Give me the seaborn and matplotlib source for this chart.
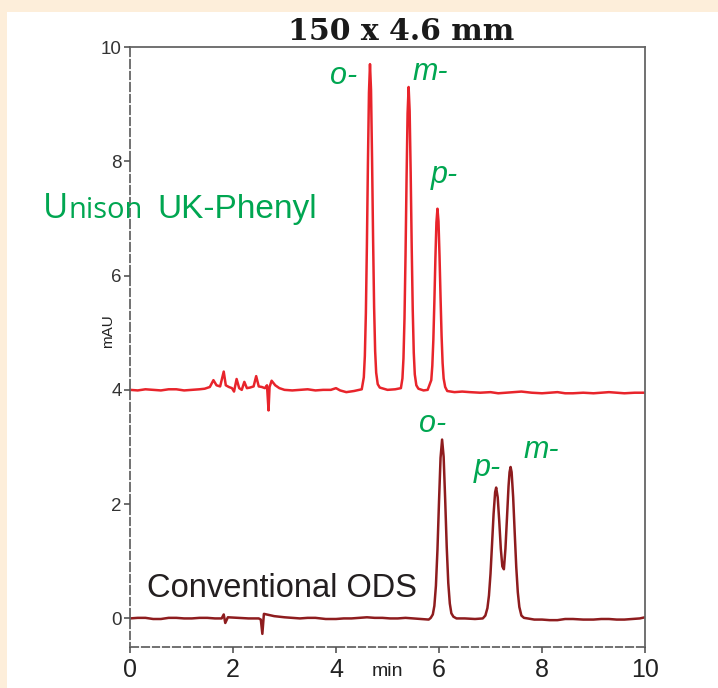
import numpy as np
import pandas as pd
import matplotlib
matplotlib.use("Agg")
import matplotlib.pyplot as plt
from matplotlib.patches import Rectangle
from matplotlib.ticker import MultipleLocator
import seaborn as sns

# --- data (time [min], absorbance [mAU]) ---
# Unison UK-Phenyl (upper trace, offset at 4 mAU)
phenyl_t = [0.0, 0.15, 0.3, 0.45, 0.6, 0.75, 0.9, 1.05, 1.2, 1.35, 1.45, 1.55, 1.62, 1.68,
            1.75, 1.82, 1.86, 1.92, 1.98, 2.02, 2.07, 2.12, 2.17, 2.22, 2.27, 2.33, 2.40,
            2.45, 2.50, 2.56, 2.62, 2.66, 2.69, 2.71, 2.75, 2.82, 2.90, 3.0, 3.15, 3.3,
            3.45, 3.6, 3.75, 3.9, 4.0, 4.08, 4.2, 4.35, 4.5, 4.54, 4.56, 4.58, 4.60, 4.62,
            4.64, 4.66, 4.68, 4.70, 4.72, 4.74, 4.76, 4.78, 4.81, 4.85, 5.0, 5.15, 5.26,
            5.29, 5.31, 5.33, 5.35, 5.37, 5.39, 5.41, 5.43, 5.45, 5.47, 5.49, 5.51, 5.53,
            5.56, 5.60, 5.70, 5.78, 5.85, 5.87, 5.89, 5.91, 5.93, 5.95, 5.97, 5.99, 6.01,
            6.03, 6.05, 6.07, 6.09, 6.12, 6.16, 6.3, 6.45, 6.6, 6.8, 7.0, 7.15, 7.3, 7.45,
            7.6, 7.8, 8.0, 8.15, 8.3, 8.45, 8.6, 8.8, 9.0, 9.15, 9.3, 9.45, 9.6, 9.8, 10.0]
phenyl_mau = [4.00, 3.99, 4.01, 4.00, 3.99, 4.01, 4.01, 3.99, 4.00, 4.01, 4.02, 4.05, 4.17, 4.08,
              4.06, 4.32, 4.08, 4.05, 4.03, 3.97, 4.19, 4.03, 4.00, 4.14, 4.03, 4.04, 4.06,
              4.24, 4.06, 4.05, 4.03, 4.08, 3.64, 4.05, 4.16, 4.08, 4.03, 4.00, 3.99, 4.00,
              4.01, 3.99, 4.00, 4.00, 4.03, 3.99, 3.96, 3.98, 4.01, 4.22, 4.59, 5.34, 6.53,
              7.97, 9.20, 9.70, 9.25, 8.05, 6.65, 5.45, 4.68, 4.30, 4.10, 4.04, 4.00, 4.01,
              4.03, 4.20, 4.55, 5.25, 6.35, 7.69, 8.84, 9.30, 8.88, 7.80, 6.50, 5.40, 4.65,
              4.27, 4.08, 4.02, 3.99, 4.00, 4.17, 4.42, 4.87, 5.54, 6.30, 6.93, 7.17, 6.95,
              6.35, 5.62, 4.95, 4.47, 4.20, 4.05, 3.98, 3.96, 3.97, 3.96, 3.95, 3.96, 3.94,
              3.95, 3.96, 3.97, 3.95, 3.94, 3.95, 3.96, 3.94, 3.94, 3.95, 3.94, 3.95, 3.96,
              3.95, 3.94, 3.95, 3.95]

# Conventional ODS (lower trace)
ods_t = [0.0, 0.15, 0.3, 0.45, 0.6, 0.75, 0.9, 1.05, 1.2, 1.35, 1.5, 1.65, 1.78, 1.82, 1.85,
         1.90, 2.1, 2.3, 2.5, 2.54, 2.57, 2.60, 2.65, 2.8, 3.0, 3.15, 3.3, 3.45, 3.6, 3.8,
         4.0, 4.15, 4.3, 4.45, 4.6, 4.75, 4.9, 5.05, 5.2, 5.35, 5.5, 5.65, 5.8, 5.84, 5.88,
         5.91, 5.94, 5.97, 6.00, 6.03, 6.06, 6.09, 6.12, 6.15, 6.18, 6.21, 6.24, 6.28,
         6.34, 6.5, 6.7, 6.85, 6.90, 6.94, 6.97, 7.00, 7.03, 7.06, 7.09, 7.11, 7.14, 7.17,
         7.20, 7.23, 7.26, 7.29, 7.32, 7.35, 7.37, 7.39, 7.41, 7.44, 7.47, 7.50, 7.53,
         7.56, 7.60, 7.65, 7.72, 7.85, 8.0, 8.15, 8.3, 8.45, 8.6, 8.8, 9.0, 9.15, 9.3,
         9.45, 9.6, 9.75, 9.9, 10.0]
ods_mau = [0.00, 0.01, 0.01, -0.01, -0.01, 0.01, 0.01, 0.00, 0.00, 0.01, 0.01, 0.00, 0.00,
           0.07, -0.08, 0.02, 0.01, 0.00, 0.00, -0.02, -0.27, 0.08, 0.07, 0.04, 0.02, 0.01,
           0.00, 0.01, 0.01, -0.01, -0.01, 0.00, 0.00, 0.01, 0.02, 0.01, 0.01, 0.00, 0.00,
           0.01, 0.00, -0.01, -0.02, 0.01, 0.07, 0.22, 0.57, 1.20, 2.04, 2.81, 3.13, 2.83,
           2.08, 1.25, 0.62, 0.26, 0.09, 0.03, 0.00, 0.00, -0.01, 0.00, 0.05, 0.18, 0.40,
           0.78, 1.30, 1.83, 2.21, 2.29, 2.12, 1.70, 1.22, 0.91, 0.86, 1.22, 1.76, 2.31,
           2.56, 2.65, 2.56, 2.12, 1.50, 0.90, 0.46, 0.20, 0.05, 0.01, 0.00, -0.02, -0.02,
           -0.03, -0.03, -0.01, -0.01, -0.02, -0.02, -0.01, -0.01, -0.02, -0.02, -0.01,
           0.00, 0.02]

# peak labels
phenyl_labels = ["o-", "m-", "p-"]
phenyl_label_x = [4.14, 5.83, 6.10]
phenyl_label_y = [9.50, 9.57, 7.76]
ods_labels = ["o-", "p-", "m-"]
ods_label_x = [5.88, 6.93, 7.98]
ods_label_y = [3.40, 2.63, 2.95]

x_ticks = [0, 2, 4, 6, 8, 10]
y_ticks = [0, 2, 4, 6, 8, 10]

RED = "#E8242B"
DARKRED = "#8E1C1E"
GREEN = "#00A651"
CREAM = "#FDEEDA"

sns.set_style("white")
plt.rcParams['font.family'] = ['Liberation Sans', 'DejaVu Sans']

fig = plt.figure(figsize=(7.18, 6.88), dpi=100, facecolor="white")
# cream frame strips (top and left)
fig.patches.append(Rectangle((0, 1 - 12 / 688), 1, 12 / 688, transform=fig.transFigure,
                             facecolor=CREAM, edgecolor="none", zorder=0))
fig.patches.append(Rectangle((0, 0), 7 / 718, 1, transform=fig.transFigure,
                             facecolor=CREAM, edgecolor="none", zorder=0))

ax = fig.add_axes([130 / 718, 41 / 688, 515 / 718, 600 / 688])

df_phenyl = pd.DataFrame({"time": phenyl_t, "mAU": phenyl_mau})
df_ods = pd.DataFrame({"time": ods_t, "mAU": ods_mau})
sns.lineplot(data=df_phenyl, x="time", y="mAU", ax=ax, color=RED, lw=1.8,
             estimator=None, sort=False)
sns.lineplot(data=df_ods, x="time", y="mAU", ax=ax, color=DARKRED, lw=1.8,
             estimator=None, sort=False)

ax.set_xlim(0, 10)
ax.set_ylim(-0.5, 10)
ax.set_xticks(x_ticks)
ax.set_yticks(y_ticks)
ax.xaxis.set_minor_locator(MultipleLocator(0.2))
ax.yaxis.set_minor_locator(MultipleLocator(0.2))
ax.set_axisbelow(False)
ax.tick_params(which="both", bottom=True, left=True, top=False, right=False)
ax.tick_params(which="major", direction="out", length=4, width=1.2, color="#555555")
ax.tick_params(axis="x", which="major", labelsize=18, pad=4, labelcolor="#222222")
ax.tick_params(axis="y", which="major", labelsize=13.5, pad=2, labelcolor="#333333")
ax.tick_params(which="minor", direction="inout", length=3, width=1.3, color="white")
for s in ax.spines.values():
    s.set_color("#666666")
    s.set_linewidth(1.3)
ax.set_xlabel("")
ax.set_ylabel("")

ax.text(-0.43, 5.03, "mAU", rotation=90, ha="center", va="center", fontsize=11, color="#222222")
ax.text(5.0, -0.78, "min", ha="center", va="top", fontsize=14, color="#222222")

for lab, x, y in zip(phenyl_labels, phenyl_label_x, phenyl_label_y):
    ax.text(x, y, lab, color=GREEN, fontsize=22, style="italic", ha="center", va="center")
for lab, x, y in zip(ods_labels, ods_label_x, ods_label_y):
    ax.text(x, y, lab, color=GREEN, fontsize=22, style="italic", ha="center", va="center")

# column names
ax.text(-1.69, 7.0, "U", color=GREEN, fontsize=25, family="Open Sans", va="baseline")
ax.text(-1.19, 7.0, "nison", color=GREEN, fontsize=21, family="Open Sans", va="baseline")
ax.text(0.524, 7.0, "UK-Phenyl", color=GREEN, fontsize=24, va="baseline")
ax.text(0.33, 0.37, "Conventional ODS", color="#231F20", fontsize=23.5, va="baseline")

fig.text(401 / 718, 1 - 40 / 688, "150 x 4.6 mm", ha="center", va="baseline",
         fontsize=21.5, fontweight="bold", family="DejaVu Serif", color="#1A1A1A")

fig.savefig("out.png", dpi=100, facecolor="white")
